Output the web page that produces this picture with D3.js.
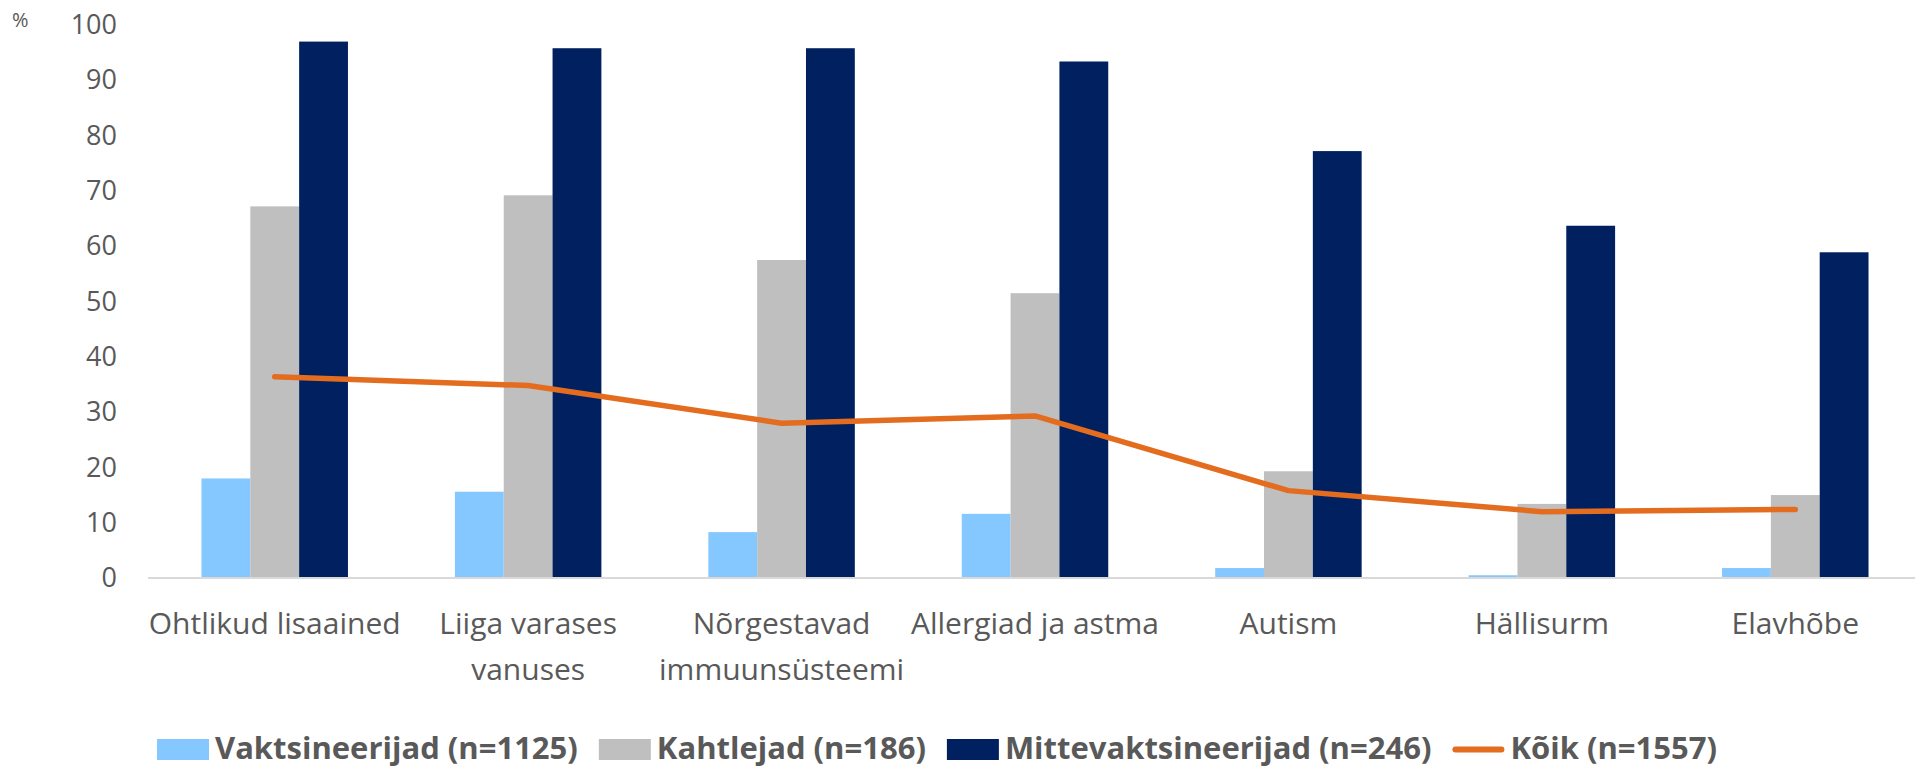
<!DOCTYPE html>
<html>
<head>
<meta charset="utf-8">
<script src="https://cdnjs.cloudflare.com/ajax/libs/d3/7.8.5/d3.min.js"></script>
<style>
  body { margin: 0; background: #fff; }
  svg { display: block; font-family: "Open Sans", sans-serif; }
</style>
</head>
<body>
<svg id="vis" width="1915" height="768"></svg>
<script>
let categories = [
  ["Ohtlikud lisaained"],
  ["Liiga varases", "vanuses"],
  ["Nõrgestavad", "immuunsüsteemi"],
  ["Allergiad ja astma"],
  ["Autism"],
  ["Hällisurm"],
  ["Elavhõbe"]
];
let seriesNames = ["Vaktsineerijad (n=1125)", "Kahtlejad (n=186)", "Mittevaktsineerijad (n=246)"];
let lineName = "Kõik (n=1557)";
let vaktsineerijad = [18.0, 15.6, 8.3, 11.6, 1.8, 0.5, 1.8];
let kahtlejad = [67.2, 69.2, 57.5, 51.5, 19.3, 13.4, 15.0];
let mittevaktsineerijad = [97.0, 95.8, 95.8, 93.4, 77.2, 63.7, 58.9];
let koik = [36.4, 34.8, 28.0, 29.3, 15.8, 12.0, 12.4];
let yTicks = [0, 10, 20, 30, 40, 50, 60, 70, 80, 90, 100];

let colors = ["#85C8FF", "#BFBFBF", "#00205F"];
let lineColor = "#E46C1F";
let textColor = "#595959";

let svg = d3.select("#vis");
let catIdx = categories.map((c, i) => i);
let series = [vaktsineerijad, kahtlejad, mittevaktsineerijad];

let x = d3.scaleBand()
  .domain(catIdx)
  .range([148, 1922])
  .paddingInner(0.422)
  .paddingOuter(0.211);

let xInner = d3.scaleBand()
  .domain([0, 1, 2])
  .range([0, x.bandwidth()]);

let y = d3.scaleLinear()
  .domain([0, 100])
  .range([578, 25]);

let yAxis = svg.append("g")
  .attr("transform", "translate(117,0)")
  .call(d3.axisLeft(y).tickValues(yTicks).tickSize(0).tickPadding(0));
yAxis.select(".domain").remove();
yAxis.selectAll("text")
  .attr("fill", textColor)
  .style("font-size", "27px")
  .style("font-family", "'Open Sans', sans-serif");

svg.append("text")
  .attr("x", 12)
  .attr("y", 27)
  .attr("fill", textColor)
  .style("font-size", "20px")
  .text("%");

let groups = svg.append("g").selectAll("g")
  .data(catIdx)
  .enter()
  .append("g")
  .attr("transform", d => `translate(${x(d)},0)`);

groups.selectAll("rect")
  .data(d => series.map((s, k) => ({k: k, v: s[d]})))
  .enter()
  .append("rect")
  .attr("x", d => xInner(d.k))
  .attr("y", d => y(d.v))
  .attr("width", xInner.bandwidth())
  .attr("height", d => y(0) - y(d.v))
  .attr("fill", d => colors[d.k]);

svg.append("line")
  .attr("x1", 148)
  .attr("x2", 1915)
  .attr("y1", y(0))
  .attr("y2", y(0))
  .attr("stroke", "#D9D9D9")
  .attr("stroke-width", 2);

let line = d3.line()
  .x((d, i) => x(i) + x.bandwidth() / 2)
  .y(d => y(d));

svg.append("path")
  .datum(koik)
  .attr("d", line)
  .attr("fill", "none")
  .attr("stroke", lineColor)
  .attr("stroke-width", 5.5)
  .attr("stroke-linecap", "round")
  .attr("stroke-linejoin", "round");

let labels = svg.append("g").selectAll("text")
  .data(catIdx)
  .enter()
  .append("text")
  .attr("x", d => x(d) + x.bandwidth() / 2)
  .attr("y", 634)
  .attr("text-anchor", "middle")
  .attr("fill", textColor)
  .style("font-size", "30px");

labels.selectAll("tspan")
  .data(d => categories[d])
  .enter()
  .append("tspan")
  .attr("x", function() { return this.parentNode.getAttribute("x"); })
  .attr("dy", (d, i) => i == 0 ? 0 : 46)
  .text(d => d);

let legend = svg.append("g");
let lx = 157;
let legendItems = seriesNames.map((n, k) => ({name: n, color: colors[k], type: "rect"}));
legendItems.push({name: lineName, color: lineColor, type: "line"});

legendItems.forEach(item => {
  if (item.type == "rect") {
    legend.append("rect")
      .attr("x", lx)
      .attr("y", 739)
      .attr("width", 52)
      .attr("height", 21)
      .attr("fill", item.color);
  } else {
    legend.append("line")
      .attr("x1", lx + 3)
      .attr("x2", lx + 49)
      .attr("y1", 749.5)
      .attr("y2", 749.5)
      .attr("stroke", item.color)
      .attr("stroke-width", 6)
      .attr("stroke-linecap", "round");
  }
  let t = legend.append("text")
    .attr("x", lx + 58)
    .attr("y", 759)
    .attr("fill", textColor)
    .style("font-size", "31px")
    .style("font-weight", "bold")
    .text(item.name);
  lx += 58 + t.node().getComputedTextLength() + 21;
});
</script>
</body>
</html>
